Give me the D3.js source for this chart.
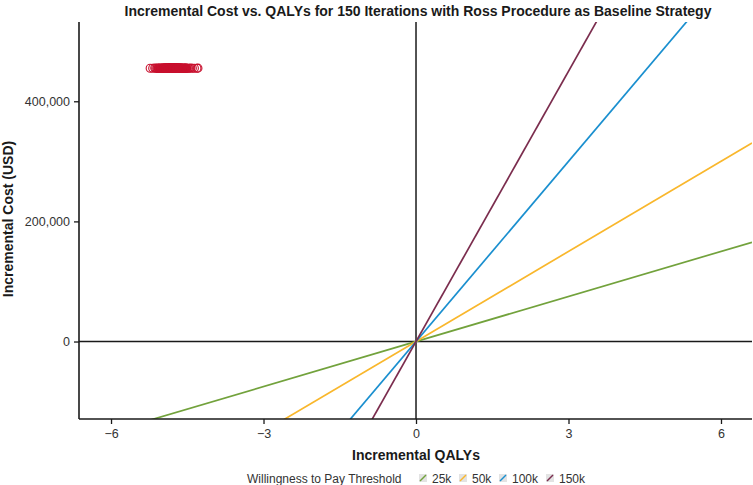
<!DOCTYPE html>
<html>
<head>
<meta charset="utf-8">
<script src="https://cdn.jsdelivr.net/npm/d3@7"></script>
<style>
  html, body { margin: 0; padding: 0; background: #fff; }
  svg { display: block; font-family: "Liberation Sans", Arial, Helvetica, sans-serif; }
</style>
</head>
<body>
<svg id="chart" width="753" height="485"></svg>
<script>
// ---------------- data ----------------
const title = "Incremental Cost vs. QALYs for 150 Iterations with Ross Procedure as Baseline Strategy";
const xTitle = "Incremental QALYs";
const yTitle = "Incremental Cost (USD)";
const legendTitle = "Willingness to Pay Threshold";
const wtpLabels = ["25k", "50k", "100k", "150k"];
const wtpValues = [25000, 50000, 100000, 150000];
const wtpColors = ["#72A23C", "#F9B72C", "#1A8FCF", "#7B2D4E"];
const xTicks = [-6, -3, 0, 3, 6];
const yTicks = [0, 200000, 400000];
const xDomain = [-6.63, 6.61];
const yDomain = [-129000, 532000];

const iterQALY = [
  -5.23, -5.18, -5.14, -5.12, -5.10, -5.08, -5.07, -5.05, -5.04, -5.03,
  -5.02, -5.01, -5.00, -4.99, -4.98, -4.97, -4.97, -4.96, -4.95, -4.95,
  -4.94, -4.93, -4.93, -4.92, -4.92, -4.91, -4.90, -4.90, -4.89, -4.89,
  -4.88, -4.88, -4.87, -4.87, -4.86, -4.86, -4.85, -4.85, -4.85, -4.84,
  -4.84, -4.83, -4.83, -4.83, -4.82, -4.82, -4.81, -4.81, -4.81, -4.80,
  -4.80, -4.80, -4.79, -4.79, -4.79, -4.78, -4.78, -4.78, -4.78, -4.77,
  -4.77, -4.77, -4.76, -4.76, -4.76, -4.75, -4.75, -4.75, -4.74, -4.74,
  -4.74, -4.73, -4.73, -4.73, -4.72, -4.72, -4.72, -4.71, -4.71, -4.70,
  -4.70, -4.70, -4.69, -4.69, -4.68, -4.68, -4.67, -4.67, -4.66, -4.66,
  -4.65, -4.65, -4.64, -4.64, -4.63, -4.62, -4.62, -4.61, -4.60, -4.60,
  -4.59, -4.58, -4.57, -4.56, -4.55, -4.54, -4.53, -4.52, -4.50, -4.48,
  -4.46, -4.43, -4.40, -4.36, -4.31, -4.29, -4.91, -4.84, -4.80, -4.77,
  -4.76, -4.73, -4.71, -4.69, -4.79, -4.82, -4.86, -4.88, -4.94, -4.99,
  -5.06, -4.75, -4.74, -4.72, -4.78, -4.81, -4.83, -4.85, -4.87, -4.90,
  -4.68, -4.66, -4.63, -4.61, -4.57, -4.53, -4.96, -5.01, -4.92, -4.70
];
const iterCost = [
  455100, 454900, 455300, 455000, 454800, 455200, 455100, 454900, 455000, 455300,
  454700, 455100, 455000, 455200, 454900, 455100, 455000, 454800, 455300, 455000,
  455100, 454900, 455200, 455000, 454800, 455100, 455300, 454900, 455000, 455200,
  455100, 454700, 455000, 455200, 454900, 455100, 455000, 455300, 454800, 455100,
  455000, 455200, 454900, 455100, 455000, 454800, 455200, 455100, 454900, 455000,
  455300, 454900, 455100, 455000, 455200, 454800, 455100, 455000, 454900, 455200,
  455100, 455000, 454800, 455300, 455000, 455100, 454900, 455200, 455000, 454800,
  455100, 455300, 454900, 455000, 455200, 455100, 454900, 455000, 454800, 455100,
  455200, 455000, 454900, 455100, 455300, 454800, 455000, 455200, 455100, 454900,
  455000, 455100, 454800, 455200, 455000, 454900, 455300, 455100, 455000, 454800,
  455100, 455000, 455200, 454900, 455100, 455000, 454800, 455200, 455100, 454900,
  455000, 455300, 454900, 455100, 455000, 455200, 454800, 455100, 455000, 454900,
  455200, 455100, 455000, 454800, 455300, 455000, 455100, 454900, 455200, 455000,
  454800, 455100, 455300, 454900, 455000, 455200, 455100, 454900, 455000, 454800,
  455100, 455200, 455000, 454900, 455100, 455300, 454800, 455000, 455200, 455100
];
const pointColor = "#C8102E";

// ---------------- layout ----------------
const plot = { left: 79, right: 752, top: 22, bottom: 419 };
const svg = d3.select("#chart");

const x = d3.scaleLinear().domain(xDomain).range([plot.left, plot.right]);
const y = d3.scaleLinear().domain(yDomain).range([plot.bottom, plot.top]);

svg.append("defs").append("clipPath").attr("id", "clip")
  .append("rect")
  .attr("x", plot.left).attr("y", plot.top)
  .attr("width", plot.right - plot.left).attr("height", plot.bottom - plot.top);

// zero reference lines
svg.append("line")
  .attr("x1", plot.left).attr("x2", plot.right)
  .attr("y1", y(0)).attr("y2", y(0))
  .attr("stroke", "#1a1a1a").attr("stroke-width", 1.5);
svg.append("line")
  .attr("x1", x(0)).attr("x2", x(0))
  .attr("y1", plot.top).attr("y2", plot.bottom)
  .attr("stroke", "#1a1a1a").attr("stroke-width", 1.5);

// WTP lines
const lineG = svg.append("g").attr("clip-path", "url(#clip)");
wtpValues.forEach((w, i) => {
  lineG.append("line")
    .attr("x1", x(xDomain[0])).attr("y1", y(w * xDomain[0]))
    .attr("x2", x(xDomain[1])).attr("y2", y(w * xDomain[1]))
    .attr("stroke", wtpColors[i]).attr("stroke-width", 1.7);
});

// points
svg.append("g").selectAll("circle")
  .data(iterQALY.map((q, i) => ({ q, c: iterCost[i] })))
  .join("circle")
  .attr("cx", d => x(d.q))
  .attr("cy", d => y(d.c))
  .attr("r", 4)
  .attr("fill", "none")
  .attr("stroke", pointColor)
  .attr("stroke-width", 1.1);

// axes
const xAxis = svg.append("g")
  .attr("transform", `translate(0,${plot.bottom})`)
  .call(d3.axisBottom(x).tickValues(xTicks).tickSize(5).tickSizeOuter(0).tickPadding(5));
const yAxis = svg.append("g")
  .attr("transform", `translate(${plot.left},0)`)
  .call(d3.axisLeft(y).tickValues(yTicks).tickFormat(d3.format(",")).tickSize(5).tickSizeOuter(0).tickPadding(4));
[xAxis, yAxis].forEach(g => {
  g.select(".domain").attr("stroke", "#1a1a1a").attr("stroke-width", 1.6);
  g.selectAll(".tick line").attr("stroke", "#1a1a1a").attr("stroke-width", 1.3);
  g.selectAll(".tick text").attr("fill", "#333").attr("font-size", 12.5)
    .attr("font-family", "'Liberation Sans', Arial, sans-serif");
});
yAxis.select(".domain").attr("d", `M0,${plot.top}V${plot.bottom}`);
xAxis.select(".domain").attr("d", `M${plot.left},0H${plot.right}`);

// titles
svg.append("text")
  .attr("x", 418).attr("y", 15.5)
  .attr("text-anchor", "middle")
  .attr("font-weight", "bold").attr("font-size", 14)
  .attr("fill", "#1a1a1a")
  .text(title);

svg.append("text")
  .attr("x", 416).attr("y", 460)
  .attr("text-anchor", "middle")
  .attr("font-weight", "bold").attr("font-size", 14)
  .attr("fill", "#1a1a1a")
  .text(xTitle);

svg.append("text")
  .attr("transform", `translate(13,219) rotate(-90)`)
  .attr("text-anchor", "middle")
  .attr("font-weight", "bold").attr("font-size", 14)
  .attr("fill", "#1a1a1a")
  .text(yTitle);

// legend
const legY = 478;
svg.append("text")
  .attr("x", 247).attr("y", legY + 4.5)
  .attr("font-size", 12).attr("fill", "#333")
  .text(legendTitle);
const keyX = [419, 459, 499, 546];
wtpLabels.forEach((lab, i) => {
  const g = svg.append("g").attr("transform", `translate(${keyX[i]},${legY - 4})`);
  g.append("rect").attr("width", 8).attr("height", 8).attr("fill", "#e3e3e3");
  g.append("line").attr("x1", 1).attr("y1", 7).attr("x2", 7).attr("y2", 1)
    .attr("stroke", wtpColors[i]).attr("stroke-width", 1.5);
  svg.append("text")
    .attr("x", keyX[i] + 13).attr("y", legY + 4.5)
    .attr("font-size", 12).attr("fill", "#333")
    .text(lab);
});
</script>
</body>
</html>
